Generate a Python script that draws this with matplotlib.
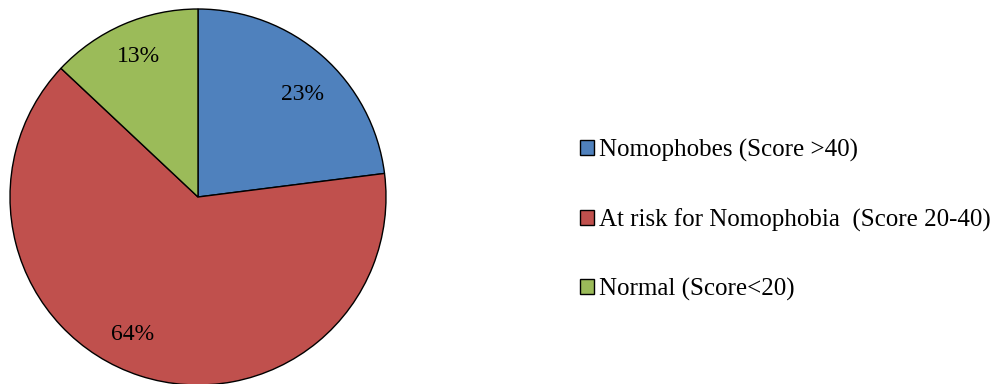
import matplotlib
matplotlib.use("Agg")
import matplotlib.pyplot as plt
from matplotlib.patches import Patch

plt.rcParams['font.family'] = ['Liberation Serif', 'DejaVu Serif']

categories = ["Nomophobes (Score >40)",
              "At risk for Nomophobia  (Score 20-40)",
              "Normal (Score<20)"]
shares = [23, 64, 13]
colors = ["#4F81BD", "#C0504D", "#9BBB59"]
# label anchor points inside each wedge (in pie-radius units)
label_xy = [(0.555, 0.545), (-0.35, -0.73), (-0.315, 0.745)]

W, H = 995, 384
fig = plt.figure(figsize=(W / 100, H / 100), dpi=100)
fig.patch.set_facecolor("white")

# pie axes: centre ~ (198, 197) px, radius ~ 188 px
r_px = 188
cx, cy = 198, 197
ax = fig.add_axes([(cx - r_px) / W, (H - cy - r_px) / H, 2 * r_px / W, 2 * r_px / H])
wedges, texts, autotexts = ax.pie(
    shares, colors=colors, startangle=90, counterclock=False,
    autopct=lambda p: f"{p:.0f}%", pctdistance=0.8,
    wedgeprops=dict(edgecolor="black", linewidth=1.0),
    textprops=dict(fontsize=17, color="black"))
for t, xy in zip(autotexts, label_xy):
    t.set_position(xy)
ax.set_xlim(-1, 1)
ax.set_ylim(-1, 1)
ax.set_aspect("equal")
for w in wedges:
    w.set_clip_on(False)

handles = [Patch(facecolor=c, edgecolor="black", linewidth=1.0) for c in colors]
fig.legend(handles, categories, loc="upper left",
           bbox_to_anchor=(580 / W, 1 - 139 / H), frameon=False,
           fontsize=18, handlelength=0.56, handleheight=0.56,
           handletextpad=0.2, labelspacing=1.84, borderpad=0, borderaxespad=0)

fig.savefig("out.png", dpi=100)
